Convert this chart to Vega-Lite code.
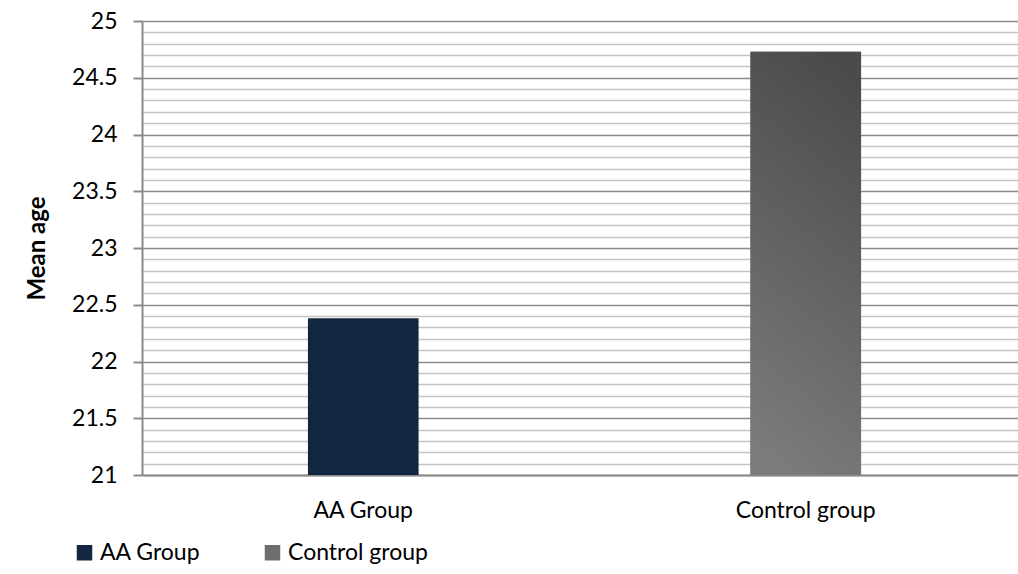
{
  "$schema": "https://vega.github.io/schema/vega-lite/v6.json",
  "width": 876,
  "height": 454,
  "autosize": {"type": "none"},
  "padding": {"left": 142, "top": 21, "right": 0, "bottom": 99},
  "background": "white",
  "config": {
    "view": {"stroke": null},
    "font": "Lato",
    "axis": {"labelFont": "Lato", "titleFont": "Lato", "labelColor": "#000000", "titleColor": "#000000"},
    "legend": {"labelFont": "Lato"}
  },
  "data": {
    "values": [
      {"group": "AA Group", "mean": 22.38},
      {"group": "Control group", "mean": 24.73}
    ]
  },
  "encoding": {
    "x": {
      "field": "group",
      "type": "nominal",
      "sort": ["AA Group", "Control group"],
      "scale": {"range": [0, 885], "paddingInner": 0.75, "paddingOuter": 0.375},
      "axis": {
        "title": null,
        "labelAngle": 0,
        "labelFontSize": 23,
        "labelPadding": 24,
        "ticks": false,
        "domainColor": "#8a8a8a",
        "domainWidth": 2,
        "grid": false
      }
    },
    "y": {
      "field": "mean",
      "type": "quantitative",
      "scale": {"domain": [21, 25], "zero": false, "nice": false},
      "axis": {
        "title": "Mean age",
        "titleFontSize": 24,
        "titleFontWeight": "bold",
        "titlePadding": 22,
        "format": "~g",
        "values": [21, 21.1, 21.2, 21.3, 21.4, 21.5, 21.6, 21.7, 21.8, 21.9, 22, 22.1, 22.2, 22.3, 22.4, 22.5, 22.6, 22.7, 22.8, 22.9, 23, 23.1, 23.2, 23.3, 23.4, 23.5, 23.6, 23.7, 23.8, 23.9, 24, 24.1, 24.2, 24.3, 24.4, 24.5, 24.6, 24.7, 24.8, 24.9, 25],
        "labelExpr": "abs(datum.value*2 - round(datum.value*2)) < 0.01 ? datum.label : ''",
        "labelFontSize": 23,
        "labelPadding": 16,
        "labelOverlap": false,
        "tickSize": 9,
        "tickWidth": 2,
        "tickColor": {"condition": {"test": "abs(datum.value*2 - round(datum.value*2)) < 0.01", "value": "#8a8a8a"}, "value": "transparent"},
        "grid": true,
        "gridColor": {"condition": {"test": "abs(datum.value*2 - round(datum.value*2)) < 0.01", "value": "#8a8a8a"}, "value": "#c4c4c4"},
        "gridWidth": 1.6,
        "domainColor": "#8a8a8a",
        "domainWidth": 2
      }
    },
    "y2": {"datum": 21}
  },
  "layer": [
    {
      "mark": {"type": "bar"},
      "encoding": {
        "color": {
          "field": "group",
          "type": "nominal",
          "scale": {"domain": ["AA Group", "Control group"], "range": ["#12263f", "#6e6e6e"]},
          "legend": {
            "title": null,
            "orient": "none",
            "direction": "horizontal",
            "legendX": -69,
            "legendY": 520,
            "symbolType": "square",
            "symbolSize": 240,
            "symbolStrokeWidth": 0,
            "labelFontSize": 23,
            "labelColor": "#000000",
            "labelOffset": 4,
            "columnPadding": 60
          }
        }
      }
    },
    {
      "transform": [{"filter": "datum.group === 'Control group'"}],
      "mark": {
        "type": "bar",
        "color": {
          "gradient": "linear",
          "x1": 0.6, "y1": 0, "x2": 0.4, "y2": 1,
          "stops": [
            {"offset": 0, "color": "#4b4b4b"},
            {"offset": 1, "color": "#7b7b7b"}
          ]
        }
      }
    }
  ]
}
